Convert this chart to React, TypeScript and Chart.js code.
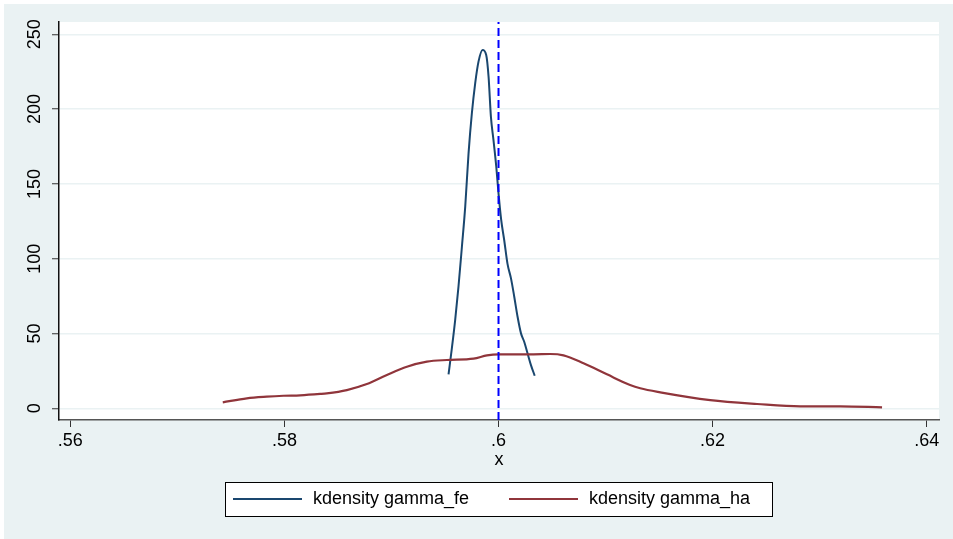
import React, { useEffect, useRef } from "react";
import { Chart, registerables } from "chart.js";

Chart.register(...registerables);

// ---- data ----
const feX = [0.59533, 0.59564, 0.59595, 0.59626, 0.59658, 0.59689, 0.5972, 0.59751, 0.59782, 0.59813, 0.59851, 0.59885, 0.59907, 0.59929, 0.59953, 0.59979, 0.6, 0.60025, 0.60053, 0.60084, 0.60116, 0.60147, 0.60178, 0.6021, 0.6024, 0.60271, 0.60303, 0.60338];
const feY = [22.7, 40.1, 59, 81.3, 108, 134.8, 170.4, 197.2, 217.2, 231.7, 239.5, 236.2, 221.7, 194.9, 179.3, 161.5, 143.7, 125.9, 112.5, 96.5, 87, 74.6, 61.2, 50.1, 44.5, 36.8, 28.9, 21.8];

const haX = [0.57424, 0.57649, 0.57835, 0.57991, 0.58147, 0.58334, 0.58396, 0.58583, 0.5877, 0.58957, 0.59144, 0.59331, 0.59518, 0.59767, 0.59892, 0.6, 0.60327, 0.60483, 0.60607, 0.60794, 0.61013, 0.61229, 0.61324, 0.61511, 0.61978, 0.62415, 0.62819, 0.63193, 0.63583];
const haY = [4.0, 6.7, 7.8, 8.4, 8.7, 9.6, 10, 12.2, 16.2, 22.3, 27.8, 31.2, 32.3, 33.2, 35.4, 36.1, 36.1, 36.3, 35.4, 30.1, 22.7, 15.6, 13.4, 10.7, 5.5, 2.9, 1.3, 1.3, 0.7];

const seriesLabels = ["kdensity gamma_fe", "kdensity gamma_ha"];
const xLineValue = 0.6;

const xTicks = [0.56, 0.58, 0.6, 0.62, 0.64];
const yTicks = [0, 50, 100, 150, 200, 250];
const xMin = 0.55894;
const xMax = 0.64115;
const yMin = -7.8;
const yMax = 258.2;
const xTitle = "x";

// ---- style ----
const FONT = "'Liberation Sans', Arial, Helvetica, sans-serif";
const BG = "#eaf2f3";
const BLUE = "#1a476f";
const RED = "#90353b";

const bgPlugin = {
  id: "stataBg",
  beforeDraw(chart: any) {
    const { ctx, width, height, chartArea } = chart;
    ctx.save();
    ctx.fillStyle = "#ffffff";
    ctx.fillRect(0, 0, width, height);
    ctx.fillStyle = BG;
    ctx.fillRect(4, 4, width - 4, height - 4);
    ctx.fillStyle = "#ffffff";
    ctx.fillRect(chartArea.left, chartArea.top, chartArea.right - chartArea.left, chartArea.bottom - chartArea.top);
    ctx.restore();
  },
};

const legendPlugin = {
  id: "stataLegend",
  afterDraw(chart: any) {
    const { ctx } = chart;
    const items = chart.data.datasets.filter((d: any) => !d.hideInLegend);
    const boxL = 225, boxT = 482, boxR = 772, boxB = 516;
    ctx.save();
    ctx.fillStyle = "#ffffff";
    ctx.fillRect(boxL, boxT, boxR - boxL, boxB - boxT);
    ctx.strokeStyle = "#000000";
    ctx.lineWidth = 1;
    ctx.strokeRect(boxL + 0.5, boxT + 0.5, boxR - boxL, boxB - boxT);
    const cy = (boxT + boxB) / 2;
    const starts = [233, 509];
    ctx.font = `18px ${FONT}`;
    ctx.textBaseline = "middle";
    ctx.textAlign = "left";
    items.forEach((d: any, i: number) => {
      const sx = starts[i];
      ctx.strokeStyle = d.borderColor;
      ctx.lineWidth = 2;
      ctx.beginPath();
      ctx.moveTo(sx, cy);
      ctx.lineTo(sx + 69, cy);
      ctx.stroke();
      ctx.fillStyle = "#000000";
      ctx.fillText(d.label, sx + 80, cy);
    });
    ctx.restore();
  },
};

export default function App() {
  const canvasRef = useRef<HTMLCanvasElement | null>(null);

  useEffect(() => {
    if (!canvasRef.current) return;
    const chart = new Chart(canvasRef.current, {
      type: "line",
      data: {
        datasets: [
          {
            label: "xline",
            hideInLegend: true,
            data: [
              { x: xLineValue, y: yMin },
              { x: xLineValue, y: yMax },
            ],
            borderColor: "#0000ff",
            borderWidth: 2,
            borderDash: [8, 4],
            pointRadius: 0,
            order: 0,
          } as any,
          {
            label: seriesLabels[0],
            data: feX.map((x, i) => ({ x, y: feY[i] })),
            borderColor: BLUE,
            borderWidth: 2,
            pointRadius: 0,
            cubicInterpolationMode: "monotone",
            order: 2,
          },
          {
            label: seriesLabels[1],
            data: haX.map((x, i) => ({ x, y: haY[i] })),
            borderColor: RED,
            borderWidth: 2.2,
            pointRadius: 0,
            cubicInterpolationMode: "monotone",
            order: 1,
          },
        ],
      },
      options: {
        animation: false,
        responsive: false,
        devicePixelRatio: 1,
        layout: { padding: { left: 0, top: 22, right: 14, bottom: 59 } },
        plugins: {
          legend: { display: false },
          tooltip: { enabled: false },
        },
        scales: {
          x: {
            type: "linear",
            min: xMin,
            max: xMax,
            afterBuildTicks: (scale: any) => {
              scale.ticks = xTicks.map((v) => ({ value: v }));
            },
            afterFit: (scale: any) => {
              scale.height = 60;
            },
            ticks: {
              autoSkip: false,
              maxRotation: 0,
              minRotation: 0,
              padding: 3,
              color: "#000",
              font: { family: FONT, size: 18 },
              callback: (v: any) => String(v).replace(/^0\./, "."),
            },
            grid: {
              drawOnChartArea: false,
              drawTicks: true,
              tickLength: 7,
              tickColor: "#333",
              tickWidth: 1,
            },
            border: { display: true, color: "#555", width: 1.5 },
            title: {
              display: true,
              text: xTitle,
              color: "#000",
              font: { family: FONT, size: 18 },
              padding: { top: 0, bottom: 9 },
            },
          },
          y: {
            type: "linear",
            min: yMin,
            max: yMax,
            afterBuildTicks: (scale: any) => {
              scale.ticks = yTicks.map((v) => ({ value: v }));
            },
            afterFit: (scale: any) => {
              scale.width = 59;
            },
            ticks: {
              autoSkip: false,
              minRotation: 90,
              maxRotation: 90,
              crossAlign: "center",
              padding: 2,
              color: "#000",
              font: { family: FONT, size: 18 },
              callback: (v: any) => String(v),
            },
            grid: {
              color: BG,
              lineWidth: 1.5,
              drawTicks: true,
              tickLength: 7,
              tickColor: "#333",
              tickWidth: 1,
            },
            border: { display: true, color: "#111", width: 1.5 },
          },
        },
      },
      plugins: [bgPlugin, legendPlugin],
    } as any);
    return () => chart.destroy();
  }, []);

  return (
    <div style={{ position: "absolute", left: 0, top: 0, width: 953, height: 539 }}>
      <canvas ref={canvasRef} width={953} height={539} style={{ display: "block" }} />
    </div>
  );
}
